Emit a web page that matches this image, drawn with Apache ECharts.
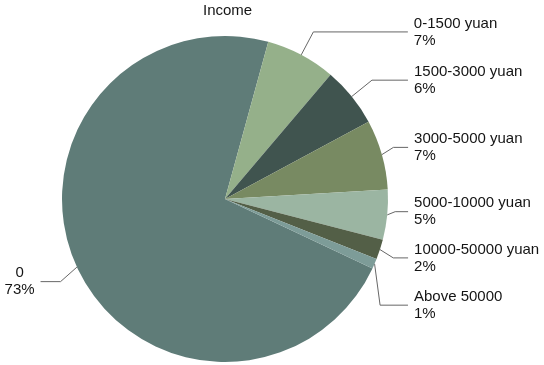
<!DOCTYPE html>
<html>
<head>
<meta charset="utf-8">
<script src="https://cdn.jsdelivr.net/npm/echarts@6/dist/echarts.min.js"></script>
<style>
  html, body { margin: 0; padding: 0; background: #ffffff; }
  #chart { width: 544px; height: 365px; }
</style>
</head>
<body>
<div id="chart"></div>
<script>
// Income brackets and their shares (%)
const categories = ['0', '0-1500 yuan', '1500-3000 yuan', '3000-5000 yuan', '5000-10000 yuan', '10000-50000 yuan', 'Above 50000'];
const shares = [73, 7, 6, 7, 5, 2, 1];

// Slice colours and label-line geometry, one entry per bracket
const colors = ['#5f7c78', '#95b08a', '#40544f', '#788a62', '#9bb5a2', '#535f47', '#7d9c98'];
const lineLen = [18, 26, 26, 12, 8, 14, 6];
const lineLen2 = [20, 94.5, 36, 14.7, 12.9, 14.8, 27.9];
const labelNudge = [7, 0, 0, -4, -4, 4, 39];

const textFont = 'Liberation Sans';
const textColor = '#141414';

const chart = echarts.init(document.getElementById('chart'), null, { renderer: 'canvas' });

const data = categories.map((name, i) => {
  const item = {
    name: name,
    value: shares[i],
    itemStyle: { color: colors[i] },
    labelLine: { length: lineLen[i], length2: lineLen2[i] }
  };
  if (i === 0) {
    item.label = {
      formatter: '{n|{b}}\n{n|{c}%}',
      rich: { n: { align: 'center', fontSize: 15, lineHeight: 17, color: textColor, fontFamily: textFont } }
    };
  }
  return item;
});

chart.setOption({
  animation: false,
  title: {
    text: 'Income',
    left: 203,
    top: 3,
    padding: 0,
    textStyle: { fontSize: 15, fontWeight: 'normal', color: textColor, fontFamily: textFont }
  },
  series: [{
    type: 'pie',
    center: [225, 199],
    radius: [0, 163],
    startAngle: -25.2,
    clockwise: true,
    avoidLabelOverlap: false,
    data: data,
    label: {
      show: true,
      formatter: '{b}\n{c}%',
      fontSize: 15,
      lineHeight: 17,
      color: textColor,
      fontFamily: textFont,
      overflow: 'none',
      alignTo: 'labelLine',
      distanceToLabelLine: 6
    },
    labelLine: {
      show: true,
      lineStyle: { color: '#666666', width: 1 }
    },
    // shift a label vertically and bend its leader line to follow
    labelLayout: function (params) {
      const n = labelNudge[params.dataIndex] || 0;
      const pts = params.labelLinePoints;
      if (!n || !pts) return {};
      const r = params.labelRect;
      const y = r.y + r.height / 2 + n;
      return {
        y: y,
        labelLinePoints: [
          [pts[0][0], pts[0][1]],
          [pts[1][0], pts[1][1] + n],
          [pts[2][0], pts[2][1] + n]
        ]
      };
    },
    emphasis: { disabled: true }
  }]
});
</script>
</body>
</html>
